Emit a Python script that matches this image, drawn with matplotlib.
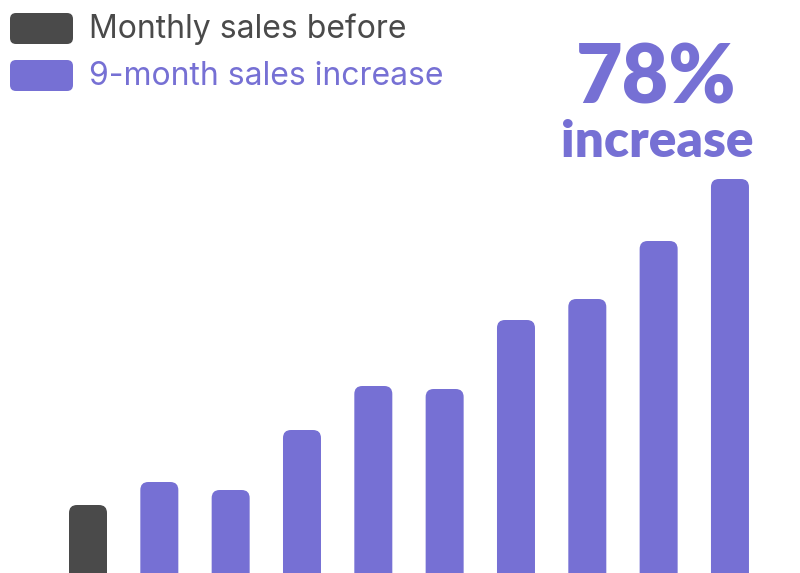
import matplotlib
matplotlib.use("Agg")
import matplotlib.pyplot as plt
from matplotlib.patches import FancyBboxPatch

# bar heights (pixel-ish units)
months = ["before", "m1", "m2", "m3", "m4", "m5", "m6", "m7", "m8", "m9"]
sales = [68, 91, 83, 143, 187, 184, 253, 274, 332, 394]
legend_labels = ["Monthly sales before", "9-month sales increase"]
headline = "78%"
subline = "increase"

dark = "#4a4a4a"
purple = "#7670d4"

plt.rcParams['font.family'] = ['Inter', 'DejaVu Sans']

fig = plt.figure(figsize=(8, 5.73), dpi=100)
ax = fig.add_axes([0, 0, 1, 1])
step = 71.33
ax.set_xlim(-88 / step, (800 - 88) / step)
ax.set_ylim(0, 573)
ax.axis('off')

bw = 38 / step
rad = 8 / step
for i, v in enumerate(sales):
    col = dark if i == 0 else purple
    p = FancyBboxPatch((i - bw / 2 + rad, -20 + rad * step), bw - 2 * rad, v + 20 - 2 * rad * step,
                       boxstyle="round,pad=%f,rounding_size=%f" % (rad, rad),
                       mutation_aspect=step, fc=col, ec='none')
    ax.add_patch(p)

# overlay in pixel coords for legend and headline
ov = fig.add_axes([0, 0, 1, 1])
ov.set_xlim(0, 800)
ov.set_ylim(573, 0)
ov.axis('off')
ov.patch.set_alpha(0)

sw_y = [13, 60]
cols = [dark, purple]
for y, lab, c in zip(sw_y, legend_labels, cols):
    ov.add_patch(FancyBboxPatch((10 + 6, y + 6), 63 - 12, 31 - 12,
                                boxstyle="round,pad=6", fc=c, ec='none'))
    ov.text(89, y + 25, lab, fontsize=23, color=c, va='baseline', ha='left')

ov.text(656, 103, headline, fontsize=58, fontweight='heavy', color=purple,
        ha='center', va='baseline', family=['Lato', 'DejaVu Sans'])
ov.text(657, 157, subline, fontsize=37, fontweight='heavy', color=purple,
        ha='center', va='baseline', family=['Lato', 'DejaVu Sans'])

fig.savefig("out.png", dpi=100)
